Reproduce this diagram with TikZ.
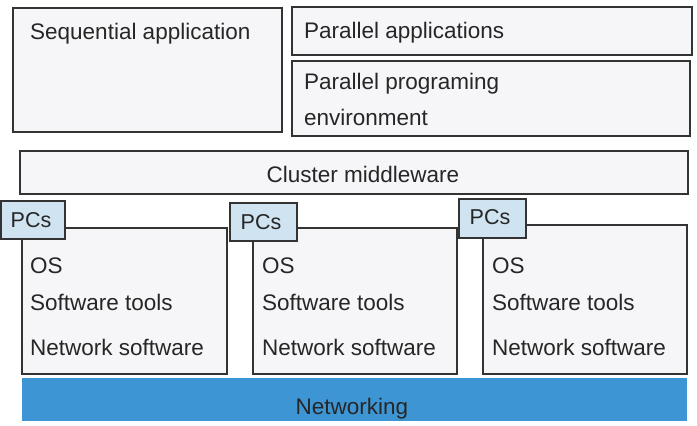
\documentclass[tikz,border=0pt]{standalone}
\usepackage{fontspec}
\setmainfont{Liberation Sans}
\definecolor{boxfill}{HTML}{F6F6F8}
\definecolor{pcfill}{HTML}{CFE3F1}
\definecolor{netblue}{HTML}{3D96D3}
\definecolor{edge}{HTML}{333333}
\begin{document}
\begin{tikzpicture}[x=1pt,y=-1pt,
  layer/.style={draw=edge,line width=1.6pt,fill=boxfill},
  pcbox/.style={draw=edge,line width=1.6pt,fill=pcfill},
  pctxt/.style={inner sep=0pt,font=\fontsize{21.5}{24}\selectfont,text=black!85},
  txt/.style={anchor=base west,inner sep=0pt,font=\fontsize{22.5}{26}\selectfont,text=black!85}]
\useasboundingbox (0,0) rectangle (697,426);
\fill[white] (0,0) rectangle (697,426);
% top boxes
\draw[layer] (13,8) rectangle (282,132);
\node[txt] (seq) at (30,39) {Sequential application};
\draw[layer] (292,7) rectangle (692,55);
\node[txt] (par) at (304,38) {Parallel applications};
\draw[layer] (292,61) rectangle (690,136);
\node[txt] (ppe1) at (304,89) {Parallel programing};
\node[txt] (ppe2) at (304,125) {environment};
% middleware
\draw[layer] (20,151) rectangle (688,194);
\node[txt,anchor=base] (mid) at (363,182) {Cluster middleware};
% PC boxes
\draw[layer] (22,228) rectangle (227,374);
\draw[layer] (253,228) rectangle (457,374);
\draw[layer] (483,225) rectangle (687,374);
\foreach \x/\n in {30/a,262/b,492/c}{
  \node[txt] (os\n) at (\x,273) {OS};
  \node[txt] (st\n) at (\x,310) {Software tools};
  \node[txt] (ns\n) at (\x,355) {Network software};
}
\draw[pcbox] (1,201) rectangle (65,239);
\node[pctxt] (pc1) at (31,220) {PCs};
\draw[pcbox] (230,203) rectangle (297,241);
\node[pctxt] (pc2) at (261,222) {PCs};
\draw[pcbox] (459,199) rectangle (526,238);
\node[pctxt] (pc3) at (490,217) {PCs};
% networking
\fill[netblue] (22,378) rectangle (687,421);
\node[txt,anchor=base] (net) at (352,414) {Networking};
\end{tikzpicture}
\end{document}
